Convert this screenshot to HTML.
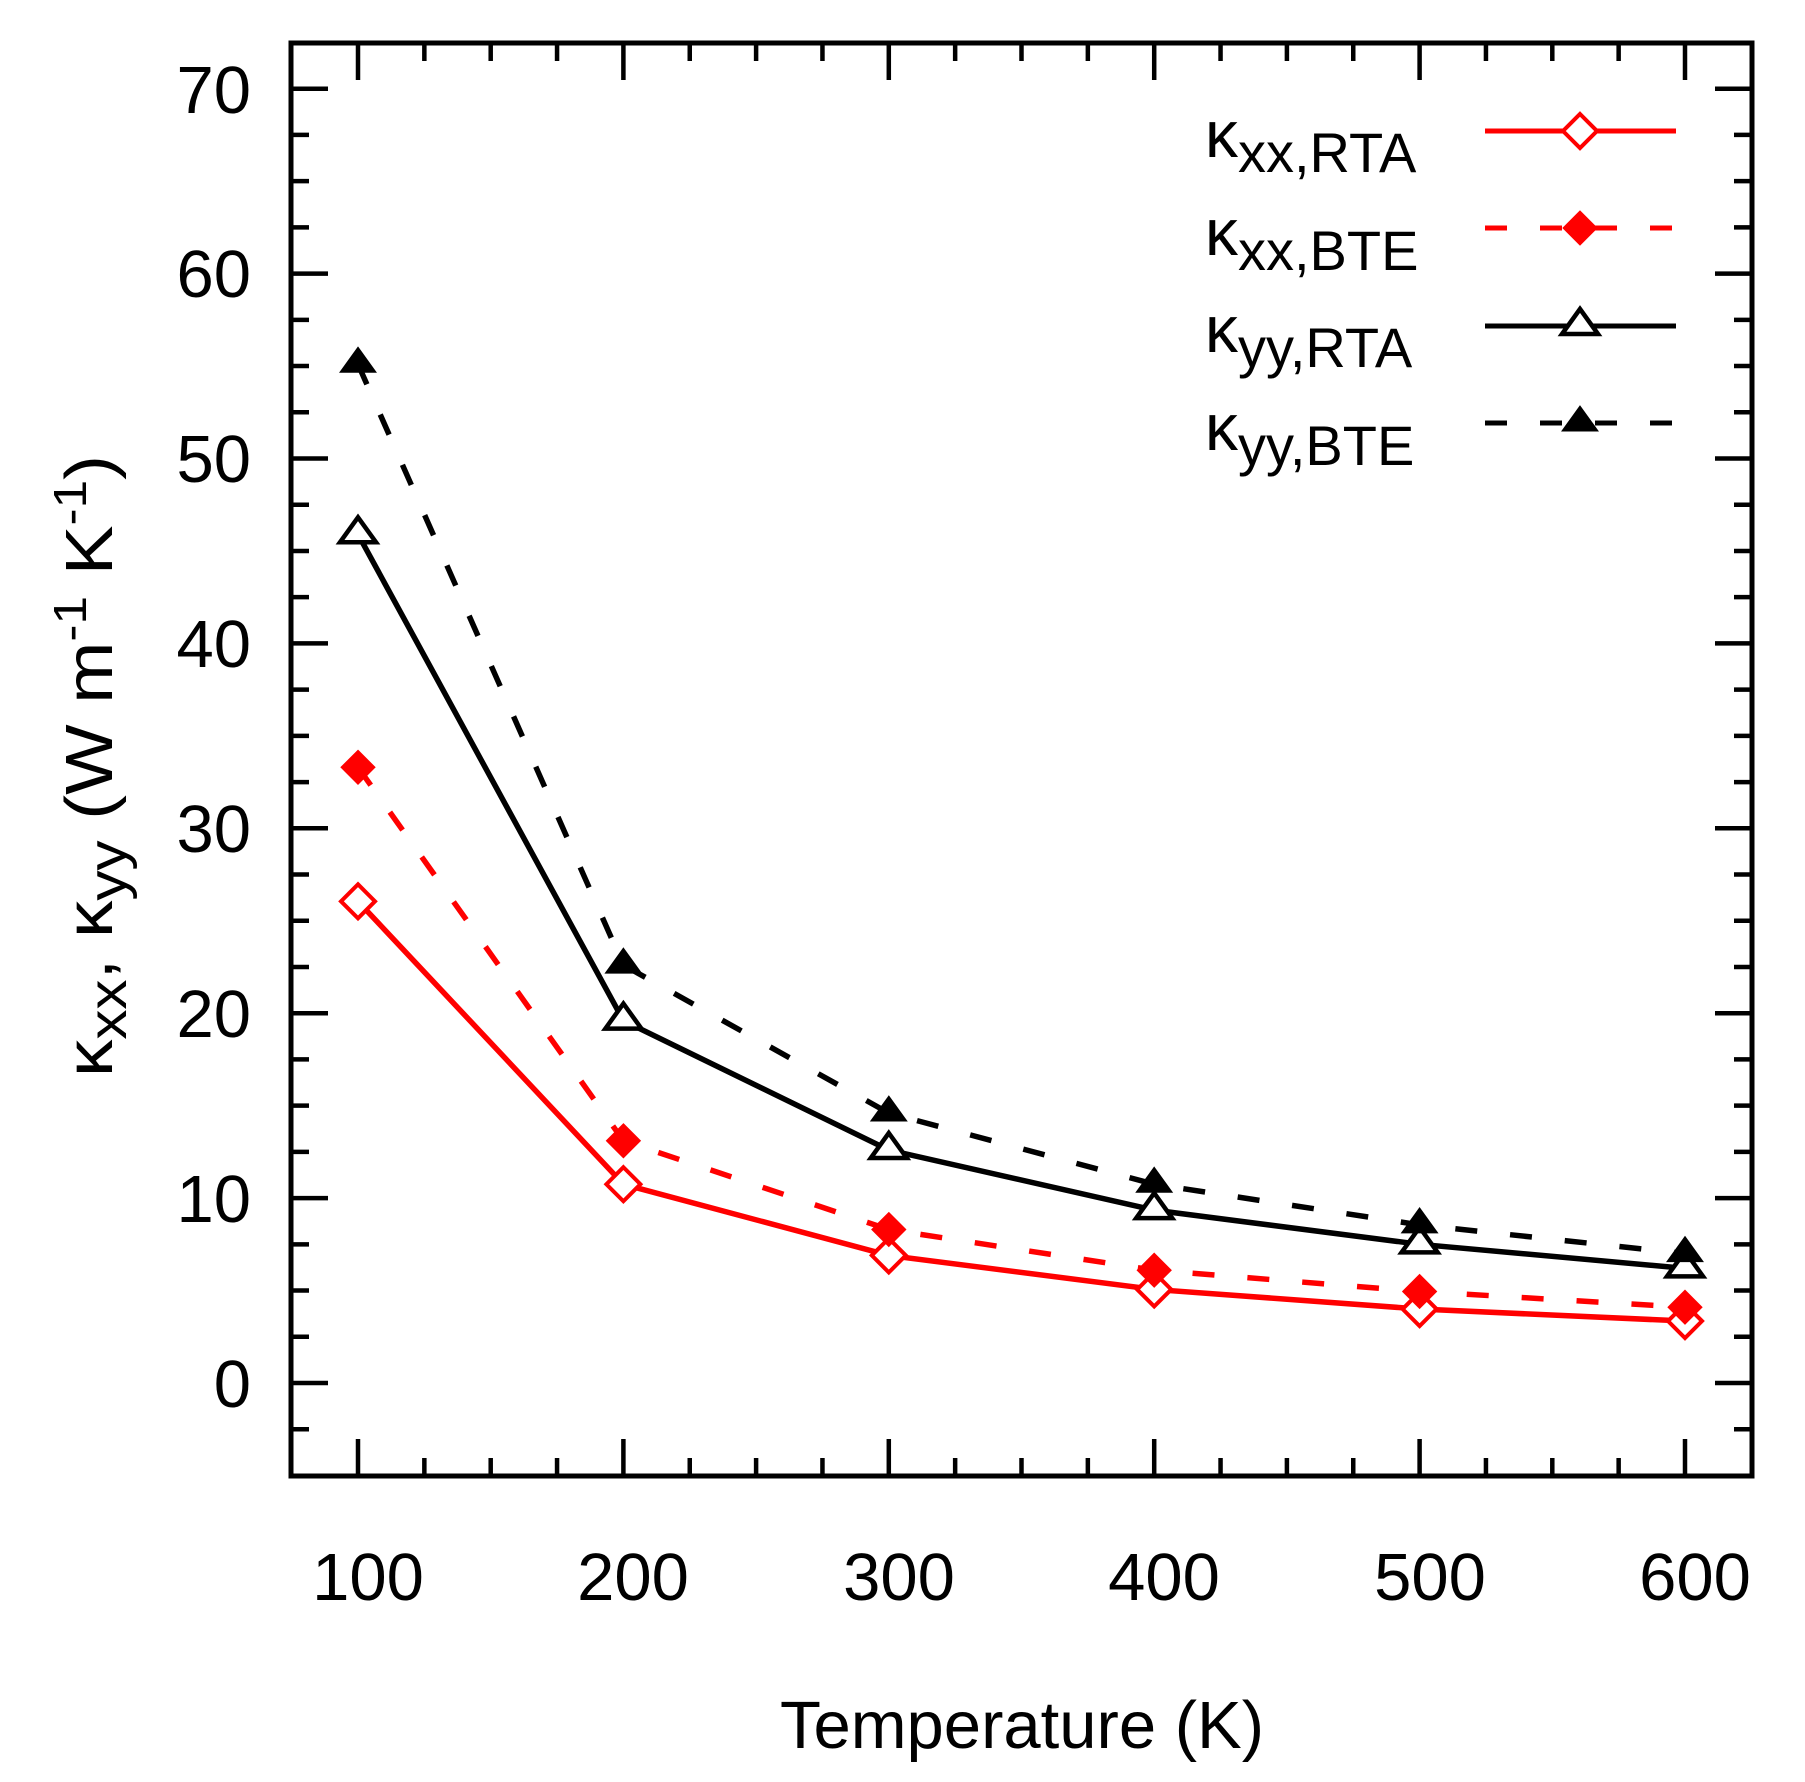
<!DOCTYPE html>
<html><head><meta charset="utf-8"><style>html,body{margin:0;padding:0;background:#fff}svg{display:block}</style></head>
<body>
<svg width="1805" height="1782" viewBox="0 0 1805 1782" xmlns="http://www.w3.org/2000/svg" font-family="Liberation Sans, DejaVu Sans, sans-serif">
<rect width="1805" height="1782" fill="#fff"/>
<g id="ticks" stroke="#000" stroke-width="4.5">
</g>
<rect x="291" y="43" width="1461" height="1433" fill="none" stroke="#000" stroke-width="5"/>
<g font-size="67" text-anchor="end" fill="#000">
<text x="251" y="1407">0</text><text x="251" y="1222">10</text><text x="251" y="1037">20</text><text x="251" y="852">30</text><text x="251" y="667">40</text><text x="251" y="482">50</text><text x="251" y="297">60</text><text x="251" y="113">70</text>
</g>
<g font-size="67" text-anchor="middle" fill="#000">
<text x="368" y="1600">100</text><text x="633" y="1600">200</text><text x="899" y="1600">300</text><text x="1164" y="1600">400</text><text x="1430" y="1600">500</text><text x="1695" y="1600">600</text>
</g>
<text x="1022" y="1748" font-size="67" text-anchor="middle">Temperature (K)</text>
<text transform="translate(112,766) rotate(-90)" font-size="67" text-anchor="middle" textLength="622" lengthAdjust="spacingAndGlyphs">κ<tspan font-size="54" dy="14">xx</tspan><tspan dy="-14">, κ</tspan><tspan font-size="54" dy="14">yy</tspan><tspan dy="-14"> (W m</tspan><tspan font-size="46" dy="-26">-1</tspan><tspan dy="26"> K</tspan><tspan font-size="46" dy="-26">-1</tspan><tspan dy="26">)</tspan></text>
<g font-size="66" fill="#000">
<text x="1205" y="157">κ<tspan font-size="56" dy="15">xx,RTA</tspan></text>
<text x="1205" y="255">κ<tspan font-size="56" dy="15">xx,BTE</tspan></text>
<text x="1205" y="352">κ<tspan font-size="56" dy="15">yy,RTA</tspan></text>
<text x="1205" y="450">κ<tspan font-size="56" dy="15">yy,BTE</tspan></text>
</g>
<g id="plot"></g>
<script>
(function(){
var NS="http://www.w3.org/2000/svg";
function X(v){return 358+(v-100)*2.654;}
function Y(v){return 1383-v*18.49;}
function el(n,a,p){var e=document.createElementNS(NS,n);for(var k in a)e.setAttribute(k,a[k]);(p||document.getElementById('plot')).appendChild(e);return e;}
var t=document.getElementById('ticks');
for(var v=-5;v<=72.5;v+=2.5){var y=Y(v);if(y<45||y>1474)continue;var L=(Math.abs(v%10)<1e-6)?37:18;
el('line',{x1:291,y1:y,x2:291+L,y2:y},t);el('line',{x1:1752,y1:y,x2:1752-L,y2:y},t);}
for(var u=75;u<=625;u+=25){var x=X(u);if(x<293||x>1750)continue;var L=(u%100==0)?37:18;
el('line',{x1:x,y1:1476,x2:x,y2:1476-L},t);el('line',{x1:x,y1:43,x2:x,y2:43+L},t);}
var T=[100,200,300,400,500,600];
var S=[
{d:[26.05,10.75,6.9,5.06,4.0,3.35],c:'#f00',dash:null,m:'od'},
{d:[33.3,13.1,8.3,6.1,4.95,4.1],c:'#f00',dash:'22 33',m:'fd'},
{d:[45.9,19.6,12.6,9.35,7.5,6.2],c:'#000',dash:null,m:'ot'},
{d:[55.1,22.6,14.6,10.75,8.55,7.0],c:'#000',dash:'22 33',m:'ft'}];
function marker(m,x,y,c){
if(m[1]=='d'){var p=(x)+','+(y-17)+' '+(x+17)+','+y+' '+x+','+(y+17)+' '+(x-17)+','+y;
 el('polygon',{points:p,fill:m[0]=='f'?c:'#fff',stroke:c,'stroke-width':m[0]=='f'?1:4});}
else{var p=x+','+(y-17)+' '+(x+18)+','+(y+8)+' '+(x-18)+','+(y+8);
 el('polygon',{points:p,fill:m[0]=='f'?c:'#fff',stroke:c,'stroke-width':m[0]=='f'?1:4.5,'stroke-linejoin':'miter'});}
}
S.forEach(function(s,i){
var pts=T.map(function(tt,j){return X(tt)+','+Y(s.d[j]);}).join(' ');
var a={points:pts,fill:'none',stroke:s.c,'stroke-width':5.5};if(s.dash)a['stroke-dasharray']=s.dash;
el('polyline',a);
T.forEach(function(tt,j){marker(s.m,X(tt),Y(s.d[j]),s.c);});
var ly=[131,228,326,423][i];
var b={x1:1485,y1:ly,x2:1676,y2:ly,stroke:s.c,'stroke-width':5};if(s.dash)b['stroke-dasharray']=s.dash;
el('line',b);marker(s.m,1580,ly,s.c);
});
})();
</script>
</svg>
</body></html>
